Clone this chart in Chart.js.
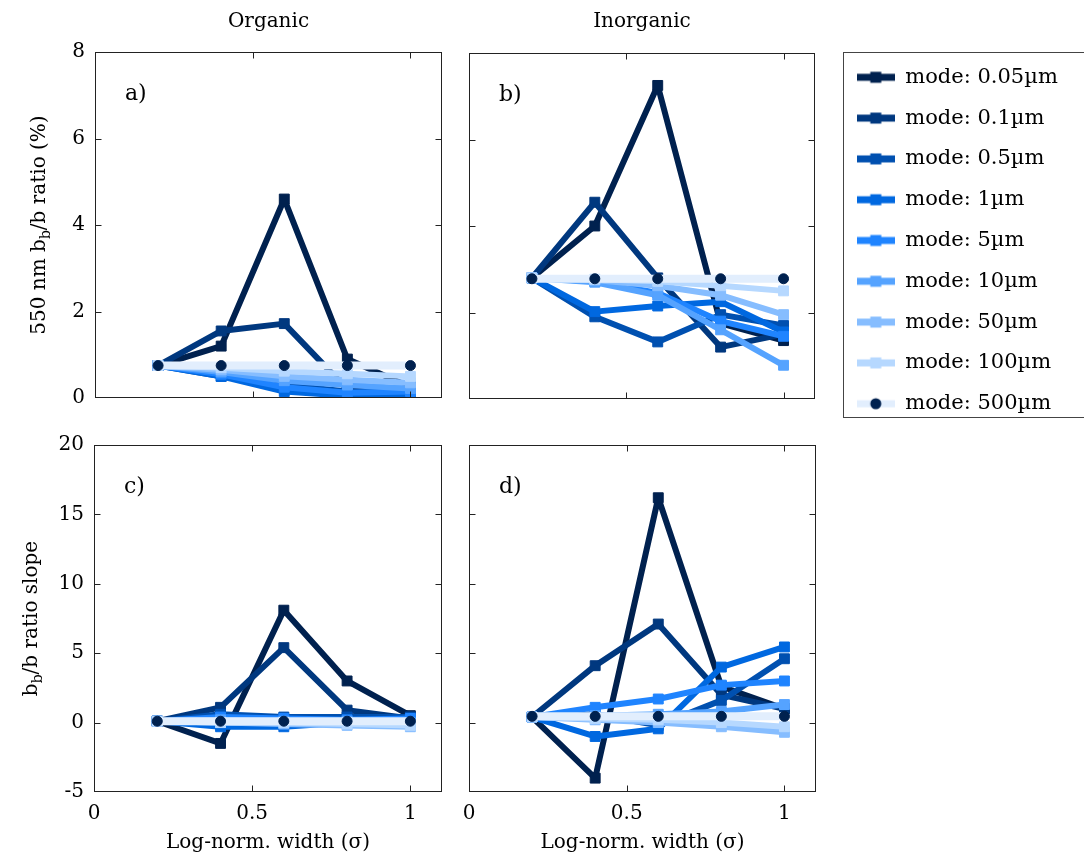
<!DOCTYPE html>
<html><head><meta charset="utf-8">
<script src="https://cdn.jsdelivr.net/npm/chart.js@4/dist/chart.umd.min.js"></script>
<style>
html,body{margin:0;padding:0;background:#fff;width:1084px;height:859px;overflow:hidden;position:relative;}
canvas{position:absolute;}
#legendBox{position:absolute;left:843px;top:52px;width:300px;height:366px;border:1px solid #444;box-sizing:border-box;}
</style></head><body>
<div id="legendBox"></div>
<canvas id="pa" width="460" height="420" style="left:0;top:0"></canvas>
<canvas id="pb" width="390" height="420" style="left:450px;top:0"></canvas>
<canvas id="pc" width="460" height="439" style="left:0;top:420px"></canvas>
<canvas id="pd" width="390" height="439" style="left:450px;top:420px"></canvas>
<canvas id="leg" width="600" height="420" style="left:837px;top:47px"></canvas>
<script>
// ---- data ----
const sigma = [0.2, 0.4, 0.6, 0.8, 1.0];
const modeLabels = ['mode: 0.05µm','mode: 0.1µm','mode: 0.5µm','mode: 1µm','mode: 5µm','mode: 10µm','mode: 50µm','mode: 100µm','mode: 500µm'];
const organicRatio = [
  [0.75, 1.2, 4.6, 0.9, 0.25],
  [0.75, 1.55, 1.72, 0.2, 0.15],
  [0.75, 0.5, 0.3, 0.15, 0.1],
  [0.75, 0.5, 0.15, 0.05, 0.08],
  [0.75, 0.55, 0.25, 0.12, 0.15],
  [0.75, 0.6, 0.4, 0.3, 0.22],
  [0.75, 0.65, 0.5, 0.42, 0.35],
  [0.75, 0.7, 0.62, 0.56, 0.5],
  [0.75, 0.75, 0.75, 0.75, 0.75]
];
const inorganicRatio = [
  [2.8, 4.0, 7.25, 1.75, 1.35],
  [2.8, 4.55, 2.8, 1.2, 1.5],
  [2.8, 1.9, 1.32, 1.95, 1.7],
  [2.8, 2.02, 2.15, 2.25, 1.55],
  [2.8, 2.72, 2.45, 1.8, 1.45],
  [2.8, 2.7, 2.4, 1.6, 0.78],
  [2.8, 2.75, 2.62, 2.4, 1.95],
  [2.8, 2.77, 2.72, 2.62, 2.5],
  [2.78, 2.78, 2.78, 2.78, 2.78]
];
const organicSlope = [
  [0.1, -1.5, 8.1, 3.0, 0.5],
  [0.1, 1.1, 5.4, 0.9, 0.3],
  [0.1, 0.6, 0.4, 0.4, 0.4],
  [0.1, -0.3, -0.3, 0.0, 0.2],
  [0.1, 0.4, 0.3, 0.2, 0.3],
  [0.1, 0.2, 0.1, 0.1, 0.0],
  [0.1, 0.0, -0.1, -0.2, -0.3],
  [0.1, 0.0, 0.0, -0.1, -0.2],
  [0.1, 0.1, 0.1, 0.1, 0.1]
];
const inorganicSlope = [
  [0.4, -4.0, 16.2, 2.6, 1.0],
  [0.4, 4.1, 7.1, 2.0, 1.0],
  [0.4, 0.6, -0.2, 1.6, 4.6],
  [0.4, -1.0, -0.45, 4.0, 5.45],
  [0.4, 1.1, 1.7, 2.7, 3.0],
  [0.4, 0.5, 0.6, 0.8, 1.3],
  [0.4, 0.2, 0.0, -0.3, -0.7],
  [0.4, 0.3, 0.2, 0.0, -0.3],
  [0.45, 0.45, 0.45, 0.45, 0.45]
];
const widthTicks = [0, 0.5, 1];
const ratioTicks = [0, 2, 4, 6, 8];
const slopeTicks = [-5, 0, 5, 10, 15, 20];
const columnTitles = ['Organic', 'Inorganic'];
const panelLabels = ['a)', 'b)', 'c)', 'd)'];
const xTitle = 'Log-norm. width (σ)';

// ---- styles ----
const lineColors = ['#00214f','#00387f','#0050b0','#0068e0','#1f84ff','#55a3ff','#86bdff','#b6d8ff','#e2eefd'];
const markerColors = ['#00214f','#00387f','#0050b0','#0068e0','#1f84ff','#55a3ff','#86bdff','#b6d8ff','#00214f'];
const FONT = "'DejaVu Serif', 'Liberation Serif', serif";

function makePanel(id, o) {
  const deco = {
    id: 'deco_' + id,
    afterDatasetsDraw(chart) {
      const ctx = chart.ctx, a = chart.chartArea;
      ctx.save();
      ctx.strokeStyle = '#222'; ctx.lineWidth = 1;
      const L = Math.round(a.left) + 0.5, R = Math.round(a.right) - 0.5;
      const T = Math.round(a.top) + 0.5, B = Math.round(a.bottom) - 0.5;
      ctx.strokeRect(L, T, R - L, B - T);
      ctx.beginPath();
      const xs = chart.scales.x, ys = chart.scales.y;
      xs.ticks.forEach(t => {
        const p = Math.round(xs.getPixelForValue(t.value)) + 0.5;
        if (p <= L + 1 || p >= R - 1) return;
        ctx.moveTo(p, B); ctx.lineTo(p, B - 6);
        ctx.moveTo(p, T); ctx.lineTo(p, T + 6);
      });
      ys.ticks.forEach(t => {
        const p = Math.round(ys.getPixelForValue(t.value)) + 0.5;
        if (p <= T + 1 || p >= B - 1) return;
        ctx.moveTo(L, p); ctx.lineTo(L + 6, p);
        ctx.moveTo(R, p); ctx.lineTo(R - 6, p);
      });
      ctx.stroke();
      ctx.fillStyle = '#000';
      ctx.textAlign = 'left'; ctx.textBaseline = 'middle';
      ctx.font = '22px ' + FONT;
      ctx.fillText(o.label, a.left + 30, a.top + 42);
      if (o.title) {
        ctx.font = '20px ' + FONT;
        ctx.textAlign = 'center';
        ctx.fillText(o.title, (a.left + a.right) / 2, 22);
        ctx.textAlign = 'left';
      }
      if (o.yTitle) {
        ctx.translate(o.yTitleX, (a.top + a.bottom) / 2);
        ctx.rotate(-Math.PI / 2);
        const parts = o.yTitle;
        let total = 0;
        parts.forEach(p => { ctx.font = (p.sub ? '14px ' : '20px ') + FONT; total += ctx.measureText(p.t).width; });
        let cx = -total / 2;
        parts.forEach(p => {
          ctx.font = (p.sub ? '14px ' : '20px ') + FONT;
          ctx.fillText(p.t, cx, p.sub ? 6 : 0);
          cx += ctx.measureText(p.t).width;
        });
      }
      ctx.restore();
    }
  };
  return new Chart(document.getElementById(id), {
    type: 'line',
    data: {
      datasets: modeLabels.map((m, i) => ({
        label: m,
        data: sigma.map((s, j) => ({x: s, y: o.values[i][j]})),
        borderColor: lineColors[i],
        backgroundColor: markerColors[i],
        pointBackgroundColor: markerColors[i],
        pointBorderColor: markerColors[i],
        pointBorderWidth: 1,
        pointStyle: i === 8 ? 'circle' : 'rect',
        pointRadius: i === 8 ? 5 : 7,
        borderWidth: i === 8 ? 8 : 6,
        borderJoinStyle: 'round',
        tension: 0,
        order: 8 - i
      }))
    },
    options: {
      responsive: false, animation: false, events: [],
      layout: {padding: {top: o.padTop, right: o.padRight, left: 0, bottom: 0}},
      plugins: {legend: {display: false}, tooltip: {enabled: false}, title: {display: false}},
      scales: {
        x: {
          type: 'linear', min: 0, max: 1.1,
          afterBuildTicks: s => { s.ticks = widthTicks.map(v => ({value: v})); },
          afterFit: s => { s.height = o.xAxisH; },
          grid: {display: false, drawTicks: false}, border: {display: false},
          ticks: {display: o.showX, color: '#000', font: {family: FONT, size: 20}, padding: 10, maxRotation: 0, autoSkip: false,
                  callback: v => String(v)},
          title: {display: o.showX, text: xTitle, color: '#000', font: {family: FONT, size: 20}, padding: {top: 0, bottom: 4}}
        },
        y: {
          type: 'linear', min: o.yMin, max: o.yMax,
          afterBuildTicks: s => { s.ticks = o.yTicks.map(v => ({value: v})); },
          afterFit: s => { s.width = o.yAxisW; },
          grid: {display: false, drawTicks: false}, border: {display: false},
          ticks: {display: o.showY, color: '#000', font: {family: FONT, size: 20}, padding: 10, callback: v => String(v)}
        }
      }
    },
    plugins: [deco]
  });
}

makePanel('pa', {values: organicRatio, yMin: 0, yMax: 8, yTicks: ratioTicks, title: columnTitles[0], label: panelLabels[0],
  yTitle: [{t: '550 nm b'}, {t: 'b', sub: true}, {t: '/b ratio (%)'}], yTitleX: 40,
  showX: false, showY: true, yAxisW: 95, xAxisH: 22, padTop: 52, padRight: 18});
makePanel('pb', {values: inorganicRatio, yMin: 0, yMax: 8, yTicks: ratioTicks, title: columnTitles[1], label: panelLabels[1],
  showX: false, showY: false, yAxisW: 19, xAxisH: 21, padTop: 53, padRight: 25});
makePanel('pc', {values: organicSlope, yMin: -5, yMax: 20, yTicks: slopeTicks, title: null, label: panelLabels[2],
  yTitle: [{t: 'b'}, {t: 'b', sub: true}, {t: '/b ratio slope'}], yTitleX: 32,
  showX: true, showY: true, yAxisW: 94, xAxisH: 67, padTop: 25, padRight: 18});
makePanel('pd', {values: inorganicSlope, yMin: -5, yMax: 20, yTicks: slopeTicks, title: null, label: panelLabels[3],
  showX: true, showY: false, yAxisW: 19, xAxisH: 67, padTop: 25, padRight: 24});

// ---- legend ----
function legendSymbol(i) {
  const c = document.createElement('canvas');
  c.width = 38; c.height = 14;
  const g = c.getContext('2d');
  g.fillStyle = lineColors[i];
  g.fillRect(0, 3.5, 38, 7);
  g.fillStyle = markerColors[i];
  if (i === 8) { g.beginPath(); g.arc(19, 7, 5.5, 0, Math.PI * 2); g.fill(); }
  else { g.fillRect(13.5, 1.5, 11, 11); }
  return c;
}
const legendSymbols = modeLabels.map((m, i) => legendSymbol(i));
new Chart(document.getElementById('leg'), {
  type: 'line',
  data: {datasets: modeLabels.map((m, i) => ({label: m, data: [], borderColor: lineColors[i], backgroundColor: markerColors[i]}))},
  options: {
    responsive: false, animation: false, events: [],
    layout: {padding: 0},
    scales: {x: {display: false}, y: {display: false}},
    plugins: {
      tooltip: {enabled: false},
      legend: {
        display: true, position: 'left', align: 'start',
        labels: {
          usePointStyle: true, pointStyleWidth: 38, padding: 19.8, color: '#000',
          font: {family: FONT, size: 21},
          generateLabels: chart => chart.data.datasets.map((d, i) => ({
            text: d.label, pointStyle: legendSymbols[i], fillStyle: d.borderColor, strokeStyle: d.borderColor,
            lineWidth: 0, hidden: false, datasetIndex: i, fontColor: '#000'
          }))
        }
      }
    }
  }
});
</script>
</body></html>
